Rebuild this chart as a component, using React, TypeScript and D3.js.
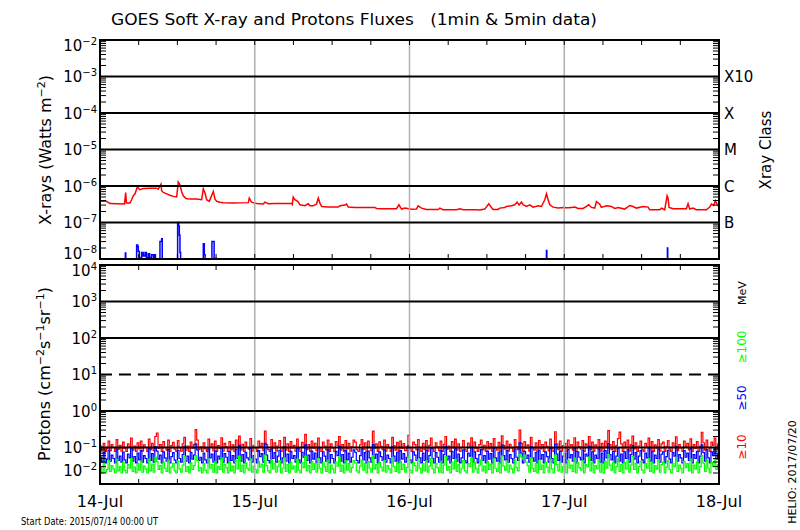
import React, { useEffect, useRef } from 'react';
import * as d3 from 'd3';

const START = Date.UTC(2015, 6, 14);
const HOUR = 3600 * 1000;

const title = 'GOES Soft X-ray and Protons Fluxes   (1min & 5min data)';
const startLabel = 'Start Date: 2015/07/14 00:00 UT';
const stampLabel = 'HELIO: 2017/07/20';

const xrayDecades = [-8, -7, -6, -5, -4, -3, -2];
const protonDecades = [-2, -1, 0, 1, 2, 3, 4];
// flare class letters sit on 1e-7 .. 1e-3
const classLetters = ['B', 'C', 'M', 'X', 'X10'];
const channelLabels = ['\u226510', '\u226550', '\u2265100'];

// GOES long channel (1-8 A), [hours since start, W m^-2]
const xrayLong: [number, number][] = [
  [0, 3.8e-7], [1.0, 3.8e-7], [1.55, 3.3e-7], [3.8, 3.2e-7], [3.98, 6.6e-7], [4.1, 3.4e-7],
  [4.65, 3.4e-7], [4.9, 4.2e-7], [5.17, 5.4e-7], [5.43, 6.1e-7], [5.79, 9.3e-7], [6.2, 7.9e-7],
  [6.72, 8.5e-7], [7.75, 8.7e-7], [8.79, 8.7e-7], [9.04, 8.2e-7], [9.46, 1.12e-6], [9.56, 7.4e-7],
  [9.82, 6.65e-7], [10.34, 6.1e-7], [10.85, 5.6e-7], [11.37, 5.2e-7], [11.89, 5.0e-7],
  [12.14, 1.28e-6], [12.4, 1.08e-6], [12.66, 7.1e-7], [12.92, 5.4e-7], [13.33, 4.56e-7],
  [13.95, 4.37e-7], [14.99, 4.37e-7], [15.76, 4.2e-7], [16.02, 8.4e-7], [16.28, 6.4e-7],
  [16.54, 4.2e-7], [16.95, 3.8e-7], [17.57, 7.1e-7], [17.83, 4.4e-7], [18.09, 3.8e-7],
  [18.6, 3.6e-7], [19.12, 3.5e-7], [20.67, 3.4e-7], [23.0, 3.5e-7], [23.15, 4.65e-7],
  [23.5, 3.6e-7], [24.29, 3.3e-7], [25.32, 3.2e-7], [25.58, 3.6e-7], [26.1, 3.26e-7],
  [27.13, 3.33e-7], [29.71, 3.33e-7], [29.82, 3.12e-7], [29.97, 4.96e-7], [30.23, 4.2e-7],
  [30.65, 3.8e-7], [31.01, 3.06e-7], [31.78, 2.9e-7], [32.3, 3.26e-7], [32.56, 2.87e-7],
  [33.07, 2.87e-7], [33.59, 3.2e-7], [33.85, 4.65e-7], [34.11, 3.4e-7], [34.37, 2.75e-7],
  [35.4, 2.64e-7], [36.95, 2.64e-7], [37.21, 2.87e-7], [37.98, 3.0e-7], [38.24, 3.2e-7],
  [38.5, 2.64e-7], [39.53, 2.59e-7], [42.63, 2.59e-7], [42.89, 2.43e-7], [43.67, 2.38e-7],
  [45.99, 2.38e-7], [46.36, 3.06e-7], [46.77, 2.33e-7], [47.29, 2.48e-7], [48.32, 2.3e-7],
  [49.08, 2.33e-7], [49.34, 2.87e-7], [49.86, 2.48e-7], [50.63, 2.28e-7], [52.5, 2.28e-7],
  [52.7, 2.48e-7], [53.22, 2.23e-7], [55.29, 2.23e-7], [55.8, 2.38e-7], [56.32, 2.23e-7],
  [58.39, 2.23e-7], [58.9, 2.19e-7], [59.68, 2.33e-7], [60.3, 3.26e-7], [60.71, 2.59e-7],
  [60.97, 2.28e-7], [61.74, 2.28e-7], [62.0, 2.48e-7], [62.78, 2.59e-7], [63.04, 2.75e-7],
  [63.81, 2.87e-7], [64.33, 3.06e-7], [64.69, 3.62e-7], [65.0, 3.0e-7], [65.36, 3.62e-7],
  [65.62, 3.06e-7], [66.14, 2.75e-7], [66.65, 3.06e-7], [67.17, 2.64e-7], [67.95, 2.87e-7],
  [68.46, 2.75e-7], [68.98, 4.2e-7], [69.24, 6.1e-7], [69.5, 4.2e-7], [69.76, 3.06e-7],
  [70.27, 2.64e-7], [71.05, 2.48e-7], [71.82, 2.59e-7], [72.6, 2.54e-7], [73.11, 2.59e-7],
  [73.63, 2.64e-7], [74.15, 2.43e-7], [74.92, 2.43e-7], [75.44, 2.75e-7], [75.8, 3.06e-7],
  [76.21, 2.59e-7], [76.73, 2.48e-7], [76.99, 3.77e-7], [77.5, 3.19e-7], [77.76, 2.59e-7],
  [78.54, 2.87e-7], [79.31, 2.75e-7], [79.83, 2.43e-7], [80.35, 2.59e-7], [81.38, 2.33e-7],
  [82.16, 2.93e-7], [82.67, 2.75e-7], [83.19, 2.48e-7], [84.22, 2.75e-7], [85.0, 2.64e-7],
  [85.26, 2.23e-7], [86.81, 2.23e-7], [87.07, 2.48e-7], [87.58, 2.23e-7], [87.95, 5.4e-7],
  [88.1, 4.65e-7], [88.26, 2.59e-7], [88.88, 2.38e-7], [90.94, 2.38e-7], [91.2, 3.26e-7],
  [91.46, 2.33e-7], [91.98, 2.48e-7], [92.49, 2.23e-7], [94.04, 2.23e-7], [94.56, 2.64e-7],
  [94.82, 3.19e-7], [95.18, 2.93e-7], [95.44, 3.94e-7], [95.7, 3.19e-7], [96, 2.75e-7],
];

// GOES short channel (0.5-4 A); mostly below the 1e-8 floor
const xrayShort: [number, number][] = [
  [0, 3e-9], [3.85, 3e-9], [3.93, 1.45e-8], [4.0, 3e-9], [5.6, 3e-9], [5.68, 2.4e-8],
  [5.84, 2.2e-8], [5.94, 1.6e-8], [6.1, 1.1e-8], [6.2, 3e-9], [6.4, 3e-9], [6.46, 1.5e-8],
  [6.7, 1.2e-8], [6.98, 1.5e-8], [7.2, 1.1e-8], [7.49, 1.4e-8], [7.7, 1.1e-8], [8.01, 1.3e-8],
  [8.3, 1.1e-8], [8.53, 1.3e-8], [8.6, 3e-9], [9.25, 3e-9], [9.3, 3e-8], [9.56, 3.6e-8],
  [9.65, 3e-9], [11.95, 3e-9], [12.04, 1e-7], [12.2, 8e-8], [12.3, 4.5e-8], [12.4, 1.5e-8],
  [12.5, 3e-9], [15.95, 3e-9], [16.02, 2.6e-8], [16.18, 1.3e-8], [16.3, 3e-9], [17.3, 3e-9],
  [17.36, 3e-8], [17.62, 3e-8], [17.7, 3e-9], [17.95, 3e-9], [17.98, 1.05e-8], [18.05, 3e-9],
  [69.2, 3e-9], [69.24, 1.7e-8], [69.3, 3e-9], [87.95, 3e-9], [88.0, 2e-8], [88.05, 3e-9],
  [96, 3e-9],
];

// proton integral fluxes, 15-min samples, units of 1e-3 pfu
const p10 = [
  110, 85, 130, 78, 95, 150, 82, 120, 100, 78, 165, 90, 115, 80, 140, 95,
  78, 125, 105, 180, 85, 110, 78, 135, 92, 150, 80, 118, 100, 78, 170, 88,
  130, 82, 200, 250, 95, 120, 78, 145, 100, 85, 160, 78, 112, 138, 90, 78,
  155, 98, 80, 125, 190, 84, 110, 78, 140, 96, 120, 310, 160, 88, 105, 78,
  135, 92, 78, 170, 100, 125, 82, 150, 78, 112, 95, 185, 80, 130, 105, 78,
  145, 86, 118, 78, 160, 98, 205, 84, 122, 78, 140, 100, 90, 175, 80, 115,
  95, 78, 150, 108, 130, 82, 280, 120, 88, 78, 165, 96, 135, 80, 110, 155,
  78, 102, 190, 85, 125, 78, 145, 98, 115, 80, 170, 92, 78, 138, 105, 230,
  88, 120, 78, 150, 96, 130, 82, 180, 100, 78, 140, 110, 86, 160, 78, 125,
  98, 78, 145, 115, 200, 84, 120, 78, 155, 92, 130, 80, 105, 160, 140, 88,
  78, 118, 165, 90, 135, 78, 150, 100, 82, 280, 96, 125, 78, 142, 108, 88,
  160, 80, 120, 98, 78, 190, 112, 85, 138, 78, 150, 95, 128, 82, 105, 215,
  92, 78, 140, 120, 86, 165, 100, 78, 130, 88, 155, 80, 115, 180, 96, 78,
  135, 104, 82, 150, 78, 122, 200, 90, 110, 78, 145, 98, 170, 84, 125, 78,
  100, 155, 88, 78, 132, 110, 185, 80, 140, 96, 78, 120, 160, 86, 115, 78,
  145, 92, 128, 78, 175, 100, 84, 138, 78, 210, 115, 90, 150, 80, 122, 98,
  78, 165, 105, 88, 300, 130, 78, 145, 96, 118, 80, 190, 100, 84, 135, 78,
  155, 92, 120, 78, 140, 108, 82, 170, 96, 78, 270, 125, 88, 150, 80, 112,
  130, 78, 160, 98, 120, 84, 185, 78, 140, 104, 90, 155, 78, 125, 110, 200,
  86, 140, 78, 118, 96, 165, 80, 130, 78, 150, 100, 290, 120, 88, 145, 78,
  112, 175, 265, 125, 78, 140, 98, 160, 80, 120, 205, 92, 135, 78, 110, 150,
  88, 78, 130, 100, 180, 84, 145, 78, 118, 96, 165, 80, 125, 140, 78, 108,
  155, 90, 78, 135, 110, 195, 82, 120, 98, 78, 150, 104, 130, 86, 172, 78,
  120, 95, 145, 78, 110, 260, 135, 84, 160, 100, 78, 140, 115, 180, 92, 125,
];
const p50 = [
  55, 40, 72, 38, 48, 85, 42, 62, 50, 38, 90, 44, 58, 40, 75, 46,
  38, 66, 52, 98, 42, 56, 38, 70, 46, 82, 40, 60, 50, 38, 95, 44,
  68, 40, 105, 80, 48, 62, 38, 76, 52, 42, 88, 38, 56, 72, 45, 38,
  84, 50, 40, 64, 110, 42, 58, 38, 74, 48, 62, 125, 86, 44, 54, 38,
  70, 46, 38, 92, 52, 66, 40, 80, 38, 58, 48, 100, 40, 68, 54, 38,
  78, 44, 60, 38, 88, 50, 115, 42, 64, 38, 74, 52, 46, 96, 40, 60,
  48, 38, 82, 56, 68, 40, 130, 62, 44, 38, 90, 50, 72, 40, 58, 84,
  38, 52, 102, 42, 66, 38, 78, 50, 60, 40, 94, 46, 38, 74, 54, 118,
  44, 62, 38, 80, 48, 70, 40, 98, 52, 38, 76, 58, 42, 88, 38, 64,
  50, 38, 78, 60, 108, 42, 64, 38, 84, 46, 70, 40, 54, 86, 74, 44,
  38, 60, 90, 46, 72, 38, 80, 52, 40, 120, 50, 66, 38, 76, 56, 44,
  86, 40, 62, 50, 38, 104, 58, 42, 74, 38, 82, 48, 68, 40, 54, 112,
  46, 38, 76, 62, 44, 90, 52, 38, 70, 44, 84, 40, 60, 98, 50, 38,
  72, 54, 40, 82, 38, 64, 110, 46, 58, 38, 78, 50, 92, 42, 66, 38,
  52, 86, 44, 38, 70, 58, 102, 40, 76, 50, 38, 64, 88, 44, 60, 38,
  80, 48, 68, 38, 96, 52, 42, 74, 38, 116, 60, 46, 82, 40, 64, 50,
  38, 90, 54, 44, 135, 70, 38, 78, 50, 62, 40, 104, 52, 42, 72, 38,
  84, 48, 64, 38, 76, 56, 40, 94, 50, 38, 122, 66, 44, 80, 40, 58,
  70, 38, 88, 52, 64, 42, 100, 38, 76, 54, 46, 84, 38, 66, 58, 108,
  44, 76, 38, 62, 50, 90, 40, 70, 38, 82, 52, 128, 64, 46, 78, 38,
  58, 96, 42, 66, 38, 76, 50, 88, 40, 64, 112, 48, 72, 38, 58, 82,
  46, 38, 70, 52, 98, 42, 78, 38, 62, 50, 90, 40, 66, 76, 38, 56,
  84, 48, 38, 72, 58, 106, 42, 64, 52, 38, 82, 54, 70, 44, 94, 38,
  64, 50, 78, 38, 58, 118, 72, 42, 88, 52, 38, 76, 60, 98, 48, 66,
];
const p100 = [
  28, 20, 38, 21, 25, 44, 22, 32, 26, 20, 47, 23, 30, 20, 40, 24,
  20, 34, 27, 50, 22, 29, 20, 36, 24, 42, 21, 31, 26, 20, 48, 23,
  35, 21, 54, 41, 25, 32, 20, 39, 27, 22, 45, 20, 29, 37, 23, 20,
  43, 26, 21, 33, 56, 22, 30, 20, 38, 25, 32, 60, 44, 23, 28, 20,
  36, 24, 20, 47, 27, 34, 21, 41, 20, 30, 25, 51, 21, 35, 28, 20,
  40, 23, 31, 20, 45, 26, 58, 22, 33, 20, 38, 27, 24, 49, 21, 31,
  25, 20, 42, 29, 35, 21, 62, 32, 23, 20, 46, 26, 37, 21, 30, 43,
  20, 27, 52, 22, 34, 20, 40, 26, 31, 21, 48, 24, 20, 38, 28, 58,
  23, 32, 20, 41, 25, 36, 21, 50, 27, 20, 39, 30, 22, 45, 20, 33,
  26, 20, 40, 31, 55, 22, 33, 20, 43, 24, 36, 21, 28, 44, 38, 23,
  20, 31, 46, 24, 37, 20, 41, 27, 21, 60, 26, 34, 20, 39, 29, 23,
  44, 21, 32, 26, 20, 53, 30, 22, 38, 20, 42, 25, 35, 21, 28, 57,
  24, 20, 39, 32, 23, 46, 27, 20, 36, 23, 43, 21, 31, 50, 26, 20,
  37, 28, 21, 42, 20, 33, 56, 24, 30, 20, 40, 26, 47, 22, 34, 20,
  27, 44, 23, 20, 36, 30, 52, 21, 39, 26, 20, 33, 45, 23, 31, 20,
  41, 25, 35, 20, 49, 27, 22, 38, 20, 59, 31, 24, 42, 21, 33, 26,
  20, 46, 28, 23, 65, 55, 48, 62, 40, 32, 21, 53, 27, 22, 37, 20,
  43, 25, 33, 20, 39, 29, 21, 48, 26, 20, 62, 34, 23, 41, 21, 30,
  36, 20, 45, 27, 33, 22, 51, 20, 39, 28, 24, 43, 20, 34, 30, 55,
  23, 39, 20, 32, 26, 46, 21, 36, 20, 42, 27, 64, 33, 24, 40, 20,
  30, 49, 22, 34, 20, 39, 26, 45, 21, 33, 57, 25, 37, 20, 30, 42,
  24, 20, 36, 27, 50, 22, 40, 20, 32, 26, 46, 21, 34, 39, 20, 29,
  43, 25, 20, 37, 30, 54, 22, 33, 27, 20, 42, 28, 36, 23, 48, 20,
  33, 26, 40, 20, 30, 60, 37, 22, 45, 27, 20, 39, 31, 50, 25, 34,
];
const protonStepHours = 0.25;

const FONT = '"DejaVu Sans", sans-serif';
const RED = '#ff0000';
const BLUE = '#0000ff';
const GREEN = '#00ff00';
const GRAY = '#b0b0b0';

const W = 800;
const H = 530;
const L = 100;
const R = 719;

type Sel = d3.Selection<SVGGElement, unknown, null, undefined>;

function powLabel(g: Sel, x: number, y: number, exp: number) {
  const t = g
    .append('text')
    .attr('x', x)
    .attr('y', y)
    .attr('text-anchor', 'end')
    .attr('font-family', FONT)
    .attr('font-size', 15);
  t.append('tspan').text('10');
  t.append('tspan')
    .attr('dy', -6)
    .attr('font-size', 10)
    .text(String(exp).replace('-', '\u2212'));
}

const App: React.FC = () => {
  const ref = useRef<SVGSVGElement>(null);

  useEffect(() => {
    if (!ref.current) return;
    const svg = d3.select(ref.current);
    svg.selectAll('*').remove();

    const t0 = new Date(START);
    const t1 = new Date(START + 96 * HOUR);
    const x = d3.scaleUtc().domain([t0, t1]).range([L, R]);
    const hx = (h: number) => x(new Date(START + h * HOUR));

    const panels = [
      { top: 40, bot: 259, decades: xrayDecades, botShift: 5.5 },
      { top: 265, bot: 484, decades: protonDecades, botShift: 14 },
    ];
    const yX = d3.scaleLog().domain([1e-8, 1e-2]).range([panels[0].bot, panels[0].top]);
    const yP = d3.scaleLog().domain([1e-2, 1e4]).range([panels[1].bot, panels[1].top]);
    const scales = [yX, yP];

    svg.append('rect').attr('width', W).attr('height', H).attr('fill', '#fff');

    const defs = svg.append('defs');
    panels.forEach((p, i) => {
      defs
        .append('clipPath')
        .attr('id', `clip${i}`)
        .append('rect')
        .attr('x', L)
        .attr('y', p.top)
        .attr('width', R - L)
        .attr('height', p.bot - p.top);
    });

    const root = svg.append('g');

    // ---- data ----
    const xrayG = root.append('g').attr('clip-path', 'url(#clip0)');
    const xline = d3
      .line<[number, number]>()
      .x(d => hx(d[0]))
      .y(d => yX(d[1]));
    xrayG
      .append('path')
      .datum(xrayShort)
      .attr('fill', 'none')
      .attr('stroke', BLUE)
      .attr('stroke-width', 1.5)
      .attr('d', xline.curve(d3.curveStepAfter));
    xrayG
      .append('path')
      .datum(xrayLong)
      .attr('fill', 'none')
      .attr('stroke', RED)
      .attr('stroke-width', 1.5)
      .attr('d', xline.curve(d3.curveLinear));

    const protG = root.append('g').attr('clip-path', 'url(#clip1)');
    const pline = d3
      .line<number>()
      .x((_, i) => hx(i * protonStepHours))
      .y(d => yP(d / 1000))
      .curve(d3.curveStepAfter);
    [
      { vals: p10, color: RED },
      { vals: p50, color: BLUE },
      { vals: p100, color: GREEN },
    ].forEach(s => {
      protG
        .append('path')
        .datum([...s.vals, s.vals[s.vals.length - 1]])
        .attr('fill', 'none')
        .attr('stroke', s.color)
        .attr('stroke-width', 1.2)
        .attr('d', pline);
    });

    // ---- grids, frames, ticks ----
    const days = x.ticks(d3.utcDay.every(1)!);
    const sixHours = x.ticks(d3.utcHour.every(6)!);

    panels.forEach((p, i) => {
      const y = scales[i];
      const g = root.append('g');

      g.selectAll('line.vgrid')
        .data(days.slice(1, -1))
        .enter()
        .append('line')
        .attr('x1', d => x(d))
        .attr('x2', d => x(d))
        .attr('y1', p.top)
        .attr('y2', p.bot)
        .attr('stroke', GRAY)
        .attr('stroke-width', 1.5);

      g.selectAll('line.hgrid')
        .data(p.decades.slice(1, -1))
        .enter()
        .append('line')
        .attr('x1', L)
        .attr('x2', R)
        .attr('y1', d => y(10 ** d))
        .attr('y2', d => y(10 ** d))
        .attr('stroke', '#000')
        .attr('stroke-width', 2)
        .attr('stroke-dasharray', d => (i === 1 && d === 1 ? '12,7' : null));

      // minor log ticks on both sides
      const minors: number[] = [];
      p.decades.slice(0, -1).forEach(d => {
        for (let m = 2; m <= 9; m++) minors.push(m * 10 ** d);
      });
      [
        [L, L + 6],
        [R - 6, R],
      ].forEach(([a, b]) => {
        g.selectAll(null)
          .data(minors)
          .enter()
          .append('line')
          .attr('x1', a)
          .attr('x2', b)
          .attr('y1', d => y(d))
          .attr('y2', d => y(d))
          .attr('stroke', '#000')
          .attr('stroke-width', 1);
      });

      // time ticks, top and bottom, pointing inward
      [
        [p.top, p.top + 5],
        [p.bot - 5, p.bot],
      ].forEach(([a, b]) => {
        g.selectAll(null)
          .data(sixHours)
          .enter()
          .append('line')
          .attr('x1', d => x(d))
          .attr('x2', d => x(d))
          .attr('y1', a)
          .attr('y2', b)
          .attr('stroke', '#000')
          .attr('stroke-width', 1);
      });

      g.append('rect')
        .attr('x', L)
        .attr('y', p.top)
        .attr('width', R - L)
        .attr('height', p.bot - p.top)
        .attr('fill', 'none')
        .attr('stroke', '#000')
        .attr('stroke-width', 2);

      // decade labels
      p.decades.forEach((d, k) => {
        let cy = y(10 ** d);
        if (k === p.decades.length - 1) cy = p.top + 5;
        if (k === 0) cy = p.bot - p.botShift;
        powLabel(g, 97, cy + 5.5, d);
      });
    });

    // ---- texts ----
    const txt = (s: string, xx: number, yy: number, size: number) =>
      svg
        .append('text')
        .attr('x', xx)
        .attr('y', yy)
        .attr('font-family', FONT)
        .attr('font-size', size)
        .text(s);

    txt(title, 354, 25, 16)
      .attr('text-anchor', 'middle')
      .style('white-space', 'pre')
      .attr('textLength', 486)
      .attr('lengthAdjust', 'spacingAndGlyphs');

    svg
      .append('g')
      .selectAll('text')
      .data(days)
      .enter()
      .append('text')
      .attr('x', d => x(d))
      .attr('y', 507)
      .attr('text-anchor', 'middle')
      .attr('font-family', FONT)
      .attr('font-size', 16)
      .text(d => d3.utcFormat('%d-%b')(d));

    txt(startLabel, 21, 525, 11)
      .attr('textLength', 137)
      .attr('lengthAdjust', 'spacingAndGlyphs');

    // flare classes
    classLetters.forEach((c, k) => {
      txt(c, 724, yX(10 ** (k - 7)) + 5.5, 15);
    });

    // rotated axis titles
    const rot = (cx: number, cy: number) => `translate(${cx},${cy}) rotate(-90)`;
    const rtxt = (s: string, cx: number, cy: number, size: number) =>
      svg
        .append('text')
        .attr('transform', rot(cx, cy))
        .attr('text-anchor', 'middle')
        .attr('font-family', FONT)
        .attr('font-size', size)
        .text(s);

    const xt = rtxt('', 51, 150, 16);
    xt.append('tspan').text('X-rays (Watts m');
    xt.append('tspan').attr('dy', -6).attr('font-size', 11).text('\u22122');
    xt.append('tspan').attr('dy', 6).text(')');

    const pt = rtxt('', 50, 374, 16);
    pt.append('tspan').text('Protons (cm');
    pt.append('tspan').attr('dy', -6).attr('font-size', 11).text('\u22122');
    pt.append('tspan').attr('dy', 6).text('s');
    pt.append('tspan').attr('dy', -6).attr('font-size', 11).text('\u22121');
    pt.append('tspan').attr('dy', 6).text('sr');
    pt.append('tspan').attr('dy', -6).attr('font-size', 11).text('\u22121');
    pt.append('tspan').attr('dy', 6).text(')');

    rtxt('Xray Class', 771, 150, 15);
    rtxt('MeV', 746, 293, 11);

    const chanColors = [RED, BLUE, GREEN];
    const chanY = [447, 398, 347];
    channelLabels.forEach((c, k) => {
      rtxt(c, 746, chanY[k], 12).attr('fill', chanColors[k]);
    });

    rtxt(stampLabel, 796, 472, 11);
  }, []);

  return (
    <svg
      ref={ref}
      width={W}
      height={H}
      style={{ position: 'absolute', left: 0, top: 0 }}
    />
  );
};

export default App;
